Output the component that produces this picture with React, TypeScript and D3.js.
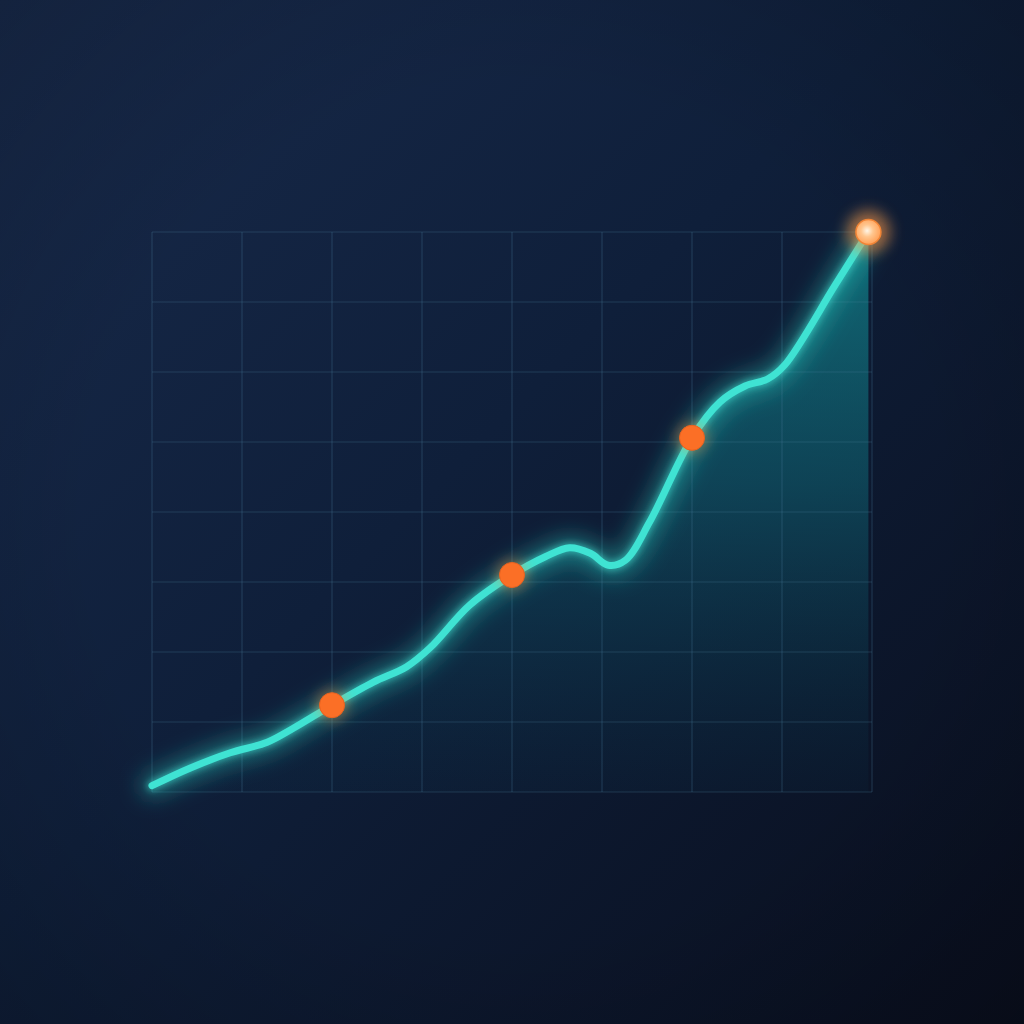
import React from "react";
import * as d3 from "d3";

const gridCols = [0, 1, 2, 3, 4, 5, 6, 7, 8];
const gridRows = [0, 1, 2, 3, 4, 5, 6, 7, 8];

const seriesX = [0, 0.42, 0.87, 1.28, 1.57, 2.0, 2.46, 2.83, 3.09, 3.53, 4.0, 4.37, 4.64, 4.87, 5.07, 5.26, 5.53, 6.0, 6.31, 6.59, 6.84, 7.03, 7.59, 7.96];
const seriesY = [0.09, 0.34, 0.56, 0.71, 0.91, 1.24, 1.57, 1.79, 2.06, 2.67, 3.1, 3.36, 3.49, 3.41, 3.24, 3.31, 3.86, 5.06, 5.57, 5.8, 5.9, 6.1, 7.24, 8.0];

const markerX = [2.0, 4.0, 6.0];
const markerY = [1.24, 3.1, 5.06];
const peakX = [7.96];
const peakY = [8.0];

const W = 1024;
const H = 1024;

export default function App() {
  const x = d3.scaleLinear().domain([0, 8]).range([152, 872]);
  const y = d3.scaleLinear().domain([0, 8]).range([792, 232]);

  const pts: [number, number][] = seriesX.map((v, i) => [v, seriesY[i]]);
  const line = d3
    .line<[number, number]>()
    .x((d) => x(d[0]))
    .y((d) => y(d[1]))
    .curve(d3.curveCatmullRom.alpha(0.5));
  const area = d3
    .area<[number, number]>()
    .x((d) => x(d[0]))
    .y0(y(0))
    .y1((d) => y(d[1]))
    .curve(d3.curveCatmullRom.alpha(0.5));

  const linePath = line(pts) || "";
  const areaPath = area(pts) || "";

  return (
    <div style={{ position: "absolute", left: 0, top: 0, width: W, height: H }}>
      <svg width={W} height={H} style={{ display: "block" }}>
        <defs>
          <linearGradient id="bg" x1="0" y1="0" x2="1" y2="1">
            <stop offset="0" stopColor="#182a4b" />
            <stop offset="0.45" stopColor="#0f1f3a" />
            <stop offset="1" stopColor="#090e1d" />
          </linearGradient>
          <radialGradient id="vig" cx="0.5" cy="0.5" r="0.75">
            <stop offset="0.55" stopColor="#000" stopOpacity="0" />
            <stop offset="1" stopColor="#000" stopOpacity="0.2" />
          </radialGradient>
          <linearGradient id="areaGrad" gradientUnits="userSpaceOnUse" x1="0" y1="232" x2="0" y2="792">
            <stop offset="0" stopColor="#129ea2" stopOpacity="0.6" />
            <stop offset="0.45" stopColor="#10808c" stopOpacity="0.4" />
            <stop offset="1" stopColor="#0b3d55" stopOpacity="0.1" />
          </linearGradient>
          <radialGradient id="peakGrad" cx="0.45" cy="0.45" r="0.6">
            <stop offset="0" stopColor="#fff6e6" />
            <stop offset="0.4" stopColor="#ffc68e" />
            <stop offset="1" stopColor="#ff9a4e" />
          </radialGradient>
          <filter id="glow" x="-20%" y="-20%" width="140%" height="140%">
            <feGaussianBlur stdDeviation="11" />
          </filter>
          <filter id="glowSmall" x="-20%" y="-20%" width="140%" height="140%">
            <feGaussianBlur stdDeviation="3" />
          </filter>
          <filter id="dotGlow" x="-200%" y="-200%" width="500%" height="500%">
            <feGaussianBlur stdDeviation="7" />
          </filter>
        </defs>

        <rect x={0} y={0} width={W} height={H} fill="url(#bg)" />
        <rect x={0} y={0} width={W} height={H} fill="url(#vig)" />

        <path d={areaPath} fill="url(#areaGrad)" />

        <g stroke="#4a7d9a" strokeOpacity={0.3} strokeWidth={1.2}>
          {gridCols.map((c) => (
            <line key={"c" + c} x1={x(c)} x2={x(c)} y1={y(0)} y2={y(8)} />
          ))}
          {gridRows.map((r) => (
            <line key={"r" + r} x1={x(0)} x2={x(8)} y1={y(r)} y2={y(r)} />
          ))}
        </g>

        <path d={linePath} fill="none" stroke="#2fd6c8" strokeOpacity={0.45} strokeWidth={22} strokeLinecap="round" filter="url(#glow)" />
        <path d={linePath} fill="none" stroke="#48f0df" strokeOpacity={0.5} strokeWidth={10} strokeLinecap="round" filter="url(#glowSmall)" />
        <path d={linePath} fill="none" stroke="#3fe3d3" strokeWidth={7} strokeLinecap="round" strokeLinejoin="round" />

        {markerX.map((mx, i) => (
          <g key={"m" + i}>
            <circle cx={x(mx)} cy={y(markerY[i])} r={15} fill="#ff8a3a" opacity={0.45} filter="url(#dotGlow)" />
            <circle cx={x(mx)} cy={y(markerY[i])} r={12.5} fill="#fb6f26" stroke="#e9621f" strokeWidth={1} />
          </g>
        ))}
        {peakX.map((px, i) => (
          <g key={"p" + i}>
            <circle cx={x(px)} cy={y(peakY[i])} r={22} fill="#ff8a3a" opacity={0.55} filter="url(#dotGlow)" />
            <circle cx={x(px)} cy={y(peakY[i])} r={12.5} fill="url(#peakGrad)" stroke="#f08436" strokeWidth={1.5} />
          </g>
        ))}
      </svg>
    </div>
  );
}
